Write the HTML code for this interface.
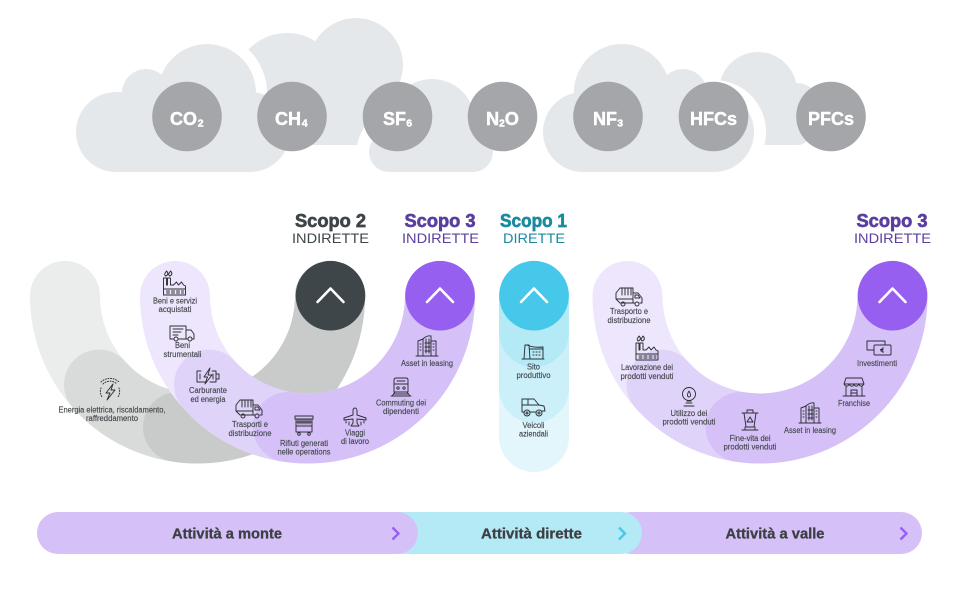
<!DOCTYPE html>
<html lang="it"><head><meta charset="utf-8"><title>Scopi emissioni</title>
<style>
html,body{margin:0;padding:0;background:#fff;width:960px;height:589px;overflow:hidden}
svg{display:block;font-family:"Liberation Sans",sans-serif}
.g text{font-weight:700;font-size:18px;fill:#fff;stroke:#fff;stroke-width:.45}
.l text{font-size:8px;fill:#43484c;text-anchor:middle;stroke:#43484c;stroke-width:.14}
.i use{fill:none;stroke:#2c3033;stroke-width:.95;stroke-linejoin:round;stroke-linecap:round}
.h{font-weight:700;font-size:18.5px;text-anchor:middle;stroke-width:.65}
.s{font-size:13.8px;text-anchor:middle}
.b{font-weight:700;font-size:14.5px;fill:#3d4043;text-anchor:middle;stroke:#3d4043;stroke-width:.3}
</style></head><body>
<svg width="960" height="589" viewBox="0 0 960 589" xmlns="http://www.w3.org/2000/svg">
<defs>
<symbol id="factory" overflow="visible"><path d="M-11 12V-5H-8V2H-7V-5H-4V2L-1 2 2 -1 4 2 7 -1 9 2 11 3V12zM-11 6H11M-8 8h3M-3 8h3M2 8h3M7 8h2M-8 10h3M-3 10h3M2 10h3M7 10h2M-9 -7c-2-2 0-3 1-5 2 2 2 4-1 5zM-5 -7c-2-2 0-3 1-5 2 2 2 4-1 5z"/></symbol>
<symbol id="van" overflow="visible"><path d="M-8 6H-12V-7H4V6H-4M4 -3H9L12 1V6H10M4 6H6M-9 -4H1M-9 -1H-1M-9 2H-4"/><circle cx="-6" cy="6" r="2"/><circle cx="8" cy="6" r="2"/></symbol>
<symbol id="battery" overflow="visible"><path d="M-7 -5H-11V6H-3M4 -5H8V6H2M8 -2H11V3H8M-8 -2V3M5 -2V3M2 -8L-4 1H-.5L-3 8 4 -1H0z"/></symbol>
<symbol id="gtruck" overflow="visible"><path d="M-13 2V-4L-9 -9H4V6H-8M4 -4H9L13 1V6H11M4 6H6M-13 2L-9 6M-7 -9V-2M-4 -9V-2M-1 -9V-2M2 -9V-2M-13 2H4M6 -2H9L11 1H6z"/><circle cx="-6" cy="7" r="2"/><circle cx="8" cy="7" r="2"/></symbol>
<symbol id="bolt" overflow="visible"><path d="M3 -7L-4 2H0L-3 9 5 -1H1z"/><path stroke-dasharray="1 1.6" d="M-7 -7A10 10 0 0 1 7 -7M9 -3A10 10 0 0 1 8 6M-9 -3A10 10 0 0 0 -8 6"/><path stroke-dasharray="1 1.6" d="M-9 -9A13 13 0 0 1 9 -9"/></symbol>
<symbol id="dump" overflow="visible"><path d="M-9 -9H9V-6H-9zM-8 -6V7H8V-6M-8 -3H8M-8 1H8M-6 -6V-1M-4 -6V-1M-2 -6V-1M0 -6V-1M2 -6V-1M4 -6V-1M6 -6V-1"/><circle cx="-5" cy="9" r="1.3"/><circle cx="5" cy="9" r="1.3"/></symbol>
<symbol id="plane" overflow="visible"><path d="M-2 -6C-2 -10 2 -10 2 -6V-2L11 1V3L2 2V6L4 9H-4L-2 6V2L-11 3V1L-2 -2zM-9 4v2M-6 5v3M6 5v3M9 4v2"/></symbol>
<symbol id="train" overflow="visible"><path d="M-7 -7Q-7 -9 -5 -9H5Q7 -9 7 -7V5H-7zM-7 -3H7M-4 -6H4M-9 9L-6 5M9 9L6 5M-10 9H10M-7 7H7"/><circle cx="-3" cy="1" r="1.2"/><circle cx="3" cy="1" r="1.2"/></symbol>
<symbol id="build" overflow="visible"><path d="M-9 10V-5L-4 -7V10M-4 -7Q0 -11 4 -10V10M4 -5H9V10M-11 10H11M-7 -2h1M-7 1h1M-7 4h1M-1 -7V7M2 -7V7M6 -2h1M6 1h1M6 4h1M-2 -3H3M-2 1H3M-2 5H3"/></symbol>
<symbol id="site" overflow="visible"><path d="M-11 7H11M-9 7L-8 -7H-4L-3 7M-6 -7Q0 -4 10 -5V7M-3 -3H10M0 0h1M3 0h1M6 0h1M0 3h1M3 3h1M6 3h1"/></symbol>
<symbol id="car" overflow="visible"><path d="M-11 5V-8H1L6 -2 11 -1 12 4H9M-11 5H-9M-3 5H3M-5 -8V-2H6M-11 -2H-5"/><circle cx="-6" cy="6" r="3"/><circle cx="-6" cy="6" r="1"/><circle cx="6" cy="6" r="3"/><circle cx="6" cy="6" r="1"/></symbol>
<symbol id="bulb" overflow="visible"><circle cx="0" cy="-3" r="6.5"/><path d="M-2 4H2M-3 6H3M-5 9H5M0 -6C-2 -3-2 0 0 0 2 0 2 -3 0 -6z"/></symbol>
<symbol id="bin" overflow="visible"><path d="M-8 -7H8M-3 -7V-10H3V-7M-6 -7L-4 7H4L6 -7M-8 10H8M-5 7V10M5 7V10M0 -3L-3 2H3z"/></symbol>
<symbol id="shop" overflow="visible"><path d="M-8 -9H8L10 -3H-10zM-10 -3C-8 0-6 0-5 -3-3 0-1 0 0 -3 1 0 3 0 5 -3 6 0 8 0 10 -3M-8 0V9H8V0M-11 9H11M-3 9V3H3V9M-3 6H3"/></symbol>
<symbol id="money" overflow="visible"><path d="M-12 2V-7H6V-3M-12 2H-5"/><rect x="-5" y="-3" width="17" height="10" rx="1"/><path d="M4.5 0C2 -.5 2 5 4.5 4M1.5 1.5H4M1.5 2.8H4"/></symbol>
</defs>

<!-- clouds -->
<g fill="#e5e8eb">
<circle cx="356" cy="65" r="47"/><circle cx="287" cy="86" r="53"/><rect x="270" y="60" width="115" height="85"/>
<circle cx="758" cy="91" r="39"/><circle cx="797" cy="105" r="22"/><rect x="720" y="90" width="90" height="55" rx="12"/>
<g fill="#fff"><circle cx="207" cy="93" r="60"/><rect x="252" y="90" width="15" height="20"/><circle cx="395" cy="150" r="38"/><circle cx="714" cy="132" r="52"/></g>
<circle cx="116" cy="132" r="40"/><circle cx="146" cy="93" r="24"/><circle cx="207" cy="93" r="49"/><circle cx="250" cy="132" r="40"/><rect x="116" y="92" width="134" height="80"/>
<circle cx="432" cy="122" r="43"/><rect x="369" y="132" width="124" height="40" rx="20"/>
<circle cx="583" cy="132" r="40"/><circle cx="622" cy="92" r="48"/><circle cx="683" cy="93" r="24"/><circle cx="714" cy="132" r="40"/><rect x="583" y="92" width="131" height="80"/>
</g>
<g fill="#a4a6a9">
<circle cx="187" cy="116.5" r="34.8"/><circle cx="292" cy="116.5" r="34.8"/><circle cx="397.5" cy="116.5" r="34.8"/><circle cx="502.5" cy="116.5" r="34.8"/><circle cx="608" cy="116.5" r="34.8"/><circle cx="713.5" cy="116.5" r="34.8"/><circle cx="831" cy="116.5" r="34.8"/>
</g>
<g class="g">
<text x="170" y="125">CO<tspan font-size="10.5" dy="1.5" dx=".8">2</tspan></text>
<text x="275" y="125">CH<tspan font-size="10.5" dy="1.5" dx=".8">4</tspan></text>
<text x="383" y="125">SF<tspan font-size="10.5" dy="1.5" dx=".2">6</tspan></text>
<text x="486" y="125" textLength="33" lengthAdjust="spacingAndGlyphs">N<tspan font-size="10" dy="1.5">2</tspan><tspan dy="-1.5">O</tspan></text>
<text x="593" y="125">NF<tspan font-size="10.5" dy="1.5" dx=".2">3</tspan></text>
<text x="690" y="125" textLength="47" lengthAdjust="spacingAndGlyphs">HFCs</text>
<text x="808" y="125" textLength="46" lengthAdjust="spacingAndGlyphs">PFCs</text>
</g>

<!-- headings -->
<text class="h" x="330.5" y="227" fill="#3e4548" stroke="#3e4548" textLength="71" lengthAdjust="spacingAndGlyphs">Scopo 2</text>
<text class="s" x="330.5" y="243" fill="#3e4548" textLength="77" lengthAdjust="spacingAndGlyphs">INDIRETTE</text>
<text class="h" x="440" y="227" fill="#5b3f9e" stroke="#5b3f9e" textLength="71" lengthAdjust="spacingAndGlyphs">Scopo 3</text>
<text class="s" x="440.5" y="243" fill="#5b3f9e" textLength="77" lengthAdjust="spacingAndGlyphs">INDIRETTE</text>
<text class="h" x="533.5" y="227" fill="#1b8a9f" stroke="#1b8a9f" textLength="67" lengthAdjust="spacingAndGlyphs">Scopo 1</text>
<text class="s" x="534" y="243" fill="#1b8a9f" textLength="62" lengthAdjust="spacingAndGlyphs">DIRETTE</text>
<text class="h" x="892" y="227" fill="#5b3f9e" stroke="#5b3f9e" textLength="71" lengthAdjust="spacingAndGlyphs">Scopo 3</text>
<text class="s" x="892.5" y="243" fill="#5b3f9e" textLength="77" lengthAdjust="spacingAndGlyphs">INDIRETTE</text>

<!-- bands -->
<g fill="none" stroke-width="70" stroke-linecap="round">
<path d="M65 296A132.5 132.5 0 0 0 330 296" stroke="#ebecec"/>
<path d="M99 384.6A132.5 132.5 0 0 0 330 296" stroke="#d9dada"/>
<path d="M178 427.06A132.5 132.5 0 0 0 330 296" stroke="#c9caca"/>
<path d="M175 296A132.5 132.5 0 0 0 440 296" stroke="#eee6fd"/>
<path d="M209 384.6A132.5 132.5 0 0 0 440 296" stroke="#e0d3fa"/>
<path d="M288 427.06A132.5 132.5 0 0 0 440 296" stroke="#d5c1f8"/>
<path d="M627.5 296A132.5 132.5 0 0 0 892.5 296" stroke="#eee6fd"/>
<path d="M661.5 384.6A132.5 132.5 0 0 0 892.5 296" stroke="#e0d3fa"/>
<path d="M740.5 427.06A132.5 132.5 0 0 0 892.5 296" stroke="#d5c1f8"/>
<path d="M534 296V437" stroke="#e3f6fc"/>
<path d="M534 296V388" stroke="#cbf0fa"/>
<path d="M534 296V332" stroke="#b4e9f6"/>
</g>
<circle cx="330.5" cy="295.7" r="34.8" fill="#3f4649"/>
<circle cx="440" cy="295.7" r="34.8" fill="#965ff0"/>
<circle cx="534" cy="295.7" r="34.8" fill="#45c8ea"/>
<circle cx="892.5" cy="295.7" r="34.8" fill="#965ff0"/>
<g fill="none" stroke="#fff" stroke-width="2.6" stroke-linecap="round" stroke-linejoin="round">
<path d="M317.5 302L330.5 288.5 343.5 302"/>
<path d="M427 302L440 288.5 453 302"/>
<path d="M521 302L534 288.5 547 302"/>
<path d="M879.5 302L892.5 288.5 905.5 302"/>
</g>

<!-- icons -->
<g class="i">
<use href="#factory" x="174.5" y="283"/>
<use href="#van" x="182" y="333"/>
<use href="#battery" x="208" y="376"/>
<use href="#gtruck" x="249" y="409"/>
<use href="#bolt" x="110" y="391"/>
<use href="#dump" x="304" y="425"/>
<use href="#plane" x="355" y="417"/>
<use href="#train" x="401" y="387"/>
<use href="#build" x="427" y="346"/>
<use href="#site" x="533" y="352"/>
<use href="#car" x="533" y="407"/>
<use href="#gtruck" x="629" y="297"/>
<use href="#factory" x="647" y="348"/>
<use href="#bulb" x="689" y="397"/>
<use href="#bin" x="750" y="420"/>
<use href="#build" x="810" y="413"/>
<use href="#shop" x="854" y="387"/>
<use href="#money" x="879" y="348"/>
</g>

<!-- labels -->
<g class="l">
<text x="175" y="303.5" textLength="44" lengthAdjust="spacingAndGlyphs">Beni e servizi</text>
<text x="175" y="312" textLength="33" lengthAdjust="spacingAndGlyphs">acquistati</text>
<text x="182.5" y="348" textLength="15" lengthAdjust="spacingAndGlyphs">Beni</text>
<text x="182.5" y="357" textLength="38" lengthAdjust="spacingAndGlyphs">strumentali</text>
<text x="208" y="393" textLength="38" lengthAdjust="spacingAndGlyphs">Carburante</text>
<text x="208" y="402" textLength="35" lengthAdjust="spacingAndGlyphs">ed energia</text>
<text x="250" y="427" textLength="36" lengthAdjust="spacingAndGlyphs">Trasporti e</text>
<text x="250" y="436" textLength="43" lengthAdjust="spacingAndGlyphs">distribuzione</text>
<text x="112" y="412.5" textLength="107" lengthAdjust="spacingAndGlyphs">Energia elettrica, riscaldamento,</text>
<text x="112" y="421" textLength="52" lengthAdjust="spacingAndGlyphs">raffreddamento</text>
<text x="304" y="446" textLength="48" lengthAdjust="spacingAndGlyphs">Rifiuti generati</text>
<text x="304" y="454.5" textLength="53" lengthAdjust="spacingAndGlyphs">nelle operations</text>
<text x="355" y="435.5" textLength="20" lengthAdjust="spacingAndGlyphs">Viaggi</text>
<text x="355" y="444" textLength="28" lengthAdjust="spacingAndGlyphs">di lavoro</text>
<text x="401" y="405.5" textLength="50" lengthAdjust="spacingAndGlyphs">Commuting dei</text>
<text x="401" y="414" textLength="36" lengthAdjust="spacingAndGlyphs">dipendenti</text>
<text x="427" y="366" textLength="52" lengthAdjust="spacingAndGlyphs">Asset in leasing</text>
<text x="533.5" y="369.5" textLength="13" lengthAdjust="spacingAndGlyphs">Sito</text>
<text x="533.5" y="378" textLength="34" lengthAdjust="spacingAndGlyphs">produttivo</text>
<text x="533.5" y="428" textLength="22" lengthAdjust="spacingAndGlyphs">Veicoli</text>
<text x="533.5" y="436.5" textLength="29" lengthAdjust="spacingAndGlyphs">aziendali</text>
<text x="629" y="314" textLength="38" lengthAdjust="spacingAndGlyphs">Trasporto e</text>
<text x="629" y="323" textLength="43" lengthAdjust="spacingAndGlyphs">distribuzione</text>
<text x="647" y="370" textLength="52" lengthAdjust="spacingAndGlyphs">Lavorazione dei</text>
<text x="647" y="379" textLength="53" lengthAdjust="spacingAndGlyphs">prodotti venduti</text>
<text x="689" y="416" textLength="37" lengthAdjust="spacingAndGlyphs">Utilizzo dei</text>
<text x="689" y="424.5" textLength="53" lengthAdjust="spacingAndGlyphs">prodotti venduti</text>
<text x="750" y="441" textLength="41" lengthAdjust="spacingAndGlyphs">Fine-vita dei</text>
<text x="750" y="449.5" textLength="53" lengthAdjust="spacingAndGlyphs">prodotti venduti</text>
<text x="810" y="433" textLength="52" lengthAdjust="spacingAndGlyphs">Asset in leasing</text>
<text x="854" y="406" textLength="32" lengthAdjust="spacingAndGlyphs">Franchise</text>
<text x="877" y="366" textLength="40" lengthAdjust="spacingAndGlyphs">Investimenti</text>
</g>

<!-- bottom bar -->
<rect x="610" y="512" width="312" height="42" rx="21" fill="#d5c0f8"/>
<rect x="380" y="512" width="262" height="42" rx="21" fill="#b4e9f6"/>
<rect x="37" y="512" width="381" height="42" rx="21" fill="#d5c0f8"/>
<text class="b" x="227" y="538.5" textLength="110" lengthAdjust="spacingAndGlyphs">Attività a monte</text>
<text class="b" x="531.5" y="538.5" textLength="101" lengthAdjust="spacingAndGlyphs">Attività dirette</text>
<text class="b" x="775" y="538.5" textLength="99" lengthAdjust="spacingAndGlyphs">Attività a valle</text>
<g fill="none" stroke-width="2.3" stroke-linejoin="miter">
<path d="M392.5 527.5L398.5 533.5 392.5 539.5" stroke="#965ff0"/>
<path d="M619 527.5L625 533.5 619 539.5" stroke="#45c8ea"/>
<path d="M900.5 527.5L906.5 533.5 900.5 539.5" stroke="#965ff0"/>
</g>
</svg>
</body></html>
